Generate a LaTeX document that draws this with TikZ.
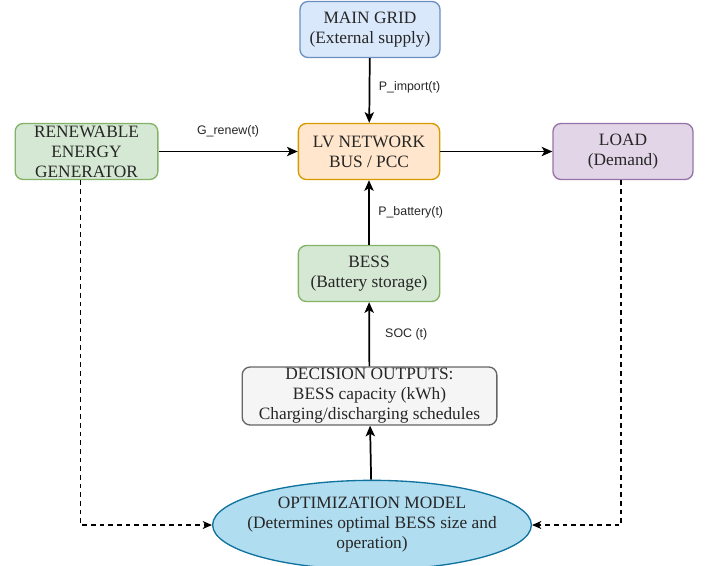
\documentclass[tikz,border=0pt]{standalone}
\usepackage{fontspec}
\setmainfont{Liberation Serif}
\newfontfamily\flowfont{Liberation Sans}
\usetikzlibrary{arrows.meta,shapes.geometric}

\definecolor{bluefill}{HTML}{DAE8FC}\definecolor{bluedraw}{HTML}{6C8EBF}
\definecolor{greenfill}{HTML}{D5E8D4}\definecolor{greendraw}{HTML}{82B366}
\definecolor{orangefill}{HTML}{FFE6CC}\definecolor{orangedraw}{HTML}{D79B00}
\definecolor{purplefill}{HTML}{E1D5E7}\definecolor{purpledraw}{HTML}{9673A6}
\definecolor{grayfill}{HTML}{F5F5F5}\definecolor{graydraw}{HTML}{666666}
\definecolor{optfill}{HTML}{B1DDF0}\definecolor{optdraw}{HTML}{10739E}
\definecolor{textgray}{HTML}{262626}

\begin{document}
\begin{tikzpicture}[x=0.75pt,y=-0.75pt,
  box/.style={draw, rounded corners=6pt, line width=1pt, align=center,
    minimum width=105pt, minimum height=42pt, inner sep=0pt,
    text=textgray, font=\fontsize{13}{15}\selectfont},
  flow/.style={-{Stealth[length=8pt,width=7pt,inset=2pt]}, line width=1.3pt},
  feed/.style={-{Stealth[length=7pt,width=6pt,inset=2pt]}, line width=1pt, dash pattern=on 3.5pt off 3pt},
  flowlabel/.style={font=\flowfont\fontsize{9.3}{11}\selectfont, text=textgray}]

\useasboundingbox (0,0) rectangle (713,565);

\node[box, fill=bluefill, draw=bluedraw] (grid) at (370,29.5) {MAIN GRID\\(External supply)};

\node[box, fill=greenfill, draw=greendraw, minimum width=107pt] (ren) at (86.5,151.5) {RENEWABLE\\ENERGY\\GENERATOR};
\node[box, fill=orangefill, draw=orangedraw, minimum width=106pt] (bus) at (369,151.5) {LV NETWORK\\BUS / PCC};
\node[box, fill=purplefill, draw=purpledraw] (load) at (623,151.5) {LOAD\\(Demand)};

\node[box, fill=greenfill, draw=greendraw, minimum width=106pt] (bess) at (369,273.5) {BESS\\(Battery storage)};

\node[box, fill=grayfill, draw=graydraw, minimum width=191pt, minimum height=43.5pt] (dec) at (369.5,396) {DECISION OUTPUTS:\\BESS capacity (kWh)\\Charging/discharging schedules};

\node[ellipse, draw=optdraw, fill=optfill, line width=1pt, minimum width=236pt, minimum height=67pt, inner xsep=-9pt, inner ysep=0pt, align=center, text=textgray, font=\fontsize{13}{15}\selectfont] (opt) at (372,525) {OPTIMIZATION MODEL\\(Determines optimal BESS size and\\operation)};

% power flows
\draw[flow] (grid) -- (bus) node[flowlabel, pos=0.45, right=3pt] {P\_import(t)};
\draw[flow] (ren) -- (bus) node[flowlabel, midway, above=7pt] {G\_renew(t)};
\draw[flow] (bus) -- (load);
\draw[flow] (bess) -- (bus) node[flowlabel, pos=0.5, right=3pt] {P\_battery(t)};
\draw[flow] (dec) -- (bess) node[flowlabel, pos=0.5, right=8pt] {SOC (t)};
\draw[flow] (opt) -- (dec);

% data inputs
\draw[feed] ([xshift=-4.5pt]ren.south) |- (opt.west);
\draw[feed] ([xshift=-1.5pt]load.south) |- (opt.east);
\end{tikzpicture}
\end{document}
